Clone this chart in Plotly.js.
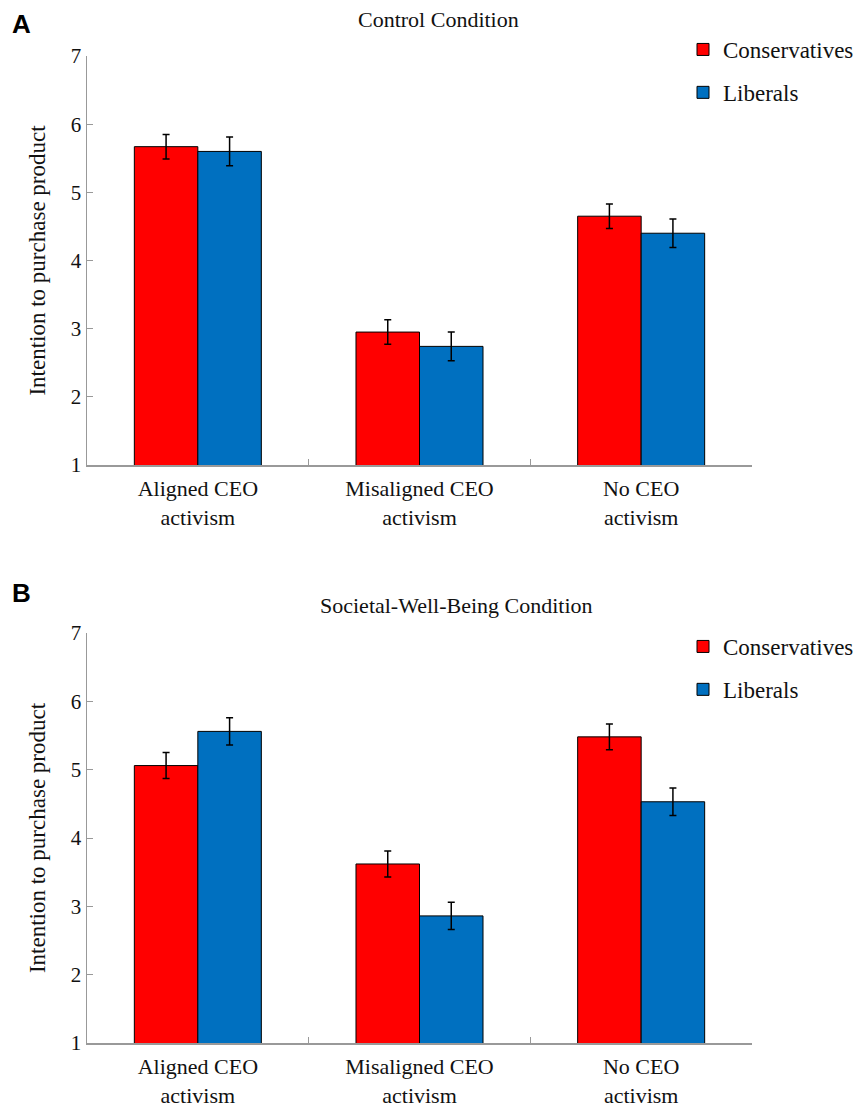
<!DOCTYPE html>
<html>
<head>
<meta charset="utf-8">
<script src="https://cdn.plot.ly/plotly-3.0.1.min.js"></script>
<style>html,body{margin:0;padding:0;background:#fff;}#chart{width:859px;height:1106px;}</style>
</head>
<body>
<div id="chart"></div>
<script>
const categories = ['Aligned CEO<br>activism', 'Misaligned CEO<br>activism', 'No CEO<br>activism'];
const seriesNames = ['Conservatives', 'Liberals'];
const yTicks = [1, 2, 3, 4, 5, 6, 7];

// Panel A: Control Condition
const consA = [5.67, 2.95, 4.65];
const consAErr = [0.18, 0.18, 0.18];
const libA = [5.60, 2.74, 4.40];
const libAErr = [0.21, 0.21, 0.21];

// Panel B: Societal-Well-Being Condition
const consB = [5.06, 3.62, 5.48];
const consBErr = [0.19, 0.19, 0.19];
const libB = [5.56, 2.86, 4.53];
const libBErr = [0.20, 0.20, 0.20];

const colors = ['#FF0000', '#0070C0'];
const FONT = 'Liberation Serif';

function bar(name, x, y, err, color, xa, ya, legendId, group) {
  return {
    type: 'bar', name: name, x: x, y: y,
    xaxis: xa, yaxis: ya, legend: legendId, legendgroup: group,
    marker: {color: color, line: {color: '#000', width: 1}},
    error_y: {type: 'data', array: err, visible: true, color: '#000', thickness: 1.5, width: 3.5}
  };
}

const data = [
  bar(seriesNames[0], categories, consA, consAErr, colors[0], 'x', 'y', 'legend', 'a1'),
  bar(seriesNames[1], categories, libA, libAErr, colors[1], 'x', 'y', 'legend', 'a2'),
  bar(seriesNames[0], categories, consB, consBErr, colors[0], 'x2', 'y2', 'legend2', 'b1'),
  bar(seriesNames[1], categories, libB, libBErr, colors[1], 'x2', 'y2', 'legend2', 'b2')
];

const H = 1106;
function py(px) { return 1 - px / H; }
function pxX(px) { return (px - 87) / 665; }

const xaxisBase = {
  type: 'category', showline: true, linecolor: '#999', linewidth: 1.5,
  ticks: 'inside', ticklen: 6, tickcolor: '#999', tickson: 'boundaries',
  showgrid: false, zeroline: false, fixedrange: true, ticklabelstandoff: 3,
  tickfont: {family: FONT, size: 22, color: '#111'}
};
const yaxisBase = {
  range: [1, 7], tickvals: yTicks, showline: true, linecolor: '#999', linewidth: 1.5,
  ticks: 'inside', ticklen: 6, tickcolor: '#999',
  showgrid: false, zeroline: false,
  tickfont: {family: FONT, size: 21, color: '#111'},
  title: {text: 'Intention to purchase product', font: {family: FONT, size: 23, color: '#111'}, standoff: 18}
};

const legendBase = {
  xanchor: 'left', yanchor: 'top', x: pxX(683),
  font: {family: FONT, size: 23, color: '#111'},
  traceorder: 'grouped', tracegroupgap: 10, bgcolor: 'rgba(0,0,0,0)'
};

const layout = {
  width: 859, height: 1106,
  margin: {l: 87, r: 107, t: 0, b: 0},
  paper_bgcolor: '#fff', plot_bgcolor: '#fff',
  barmode: 'group', bargap: 0.427, bargroupgap: 0,
  showlegend: true,
  font: {family: FONT, color: '#111'},
  xaxis: Object.assign({}, xaxisBase, {anchor: 'y', domain: [0, 1]}),
  yaxis: Object.assign({}, yaxisBase, {anchor: 'x', domain: [py(465), py(56)]}),
  xaxis2: Object.assign({}, xaxisBase, {anchor: 'y2', domain: [0, 1]}),
  yaxis2: Object.assign({}, yaxisBase, {anchor: 'x2', domain: [py(1043), py(633)]}),
  legend: Object.assign({}, legendBase, {y: py(28)}),
  legend2: Object.assign({}, legendBase, {y: py(625)}),
  annotations: [
    {text: 'Control Condition', xref: 'paper', yref: 'paper', x: pxX(438), y: py(20), showarrow: false,
     xanchor: 'center', yanchor: 'middle', font: {family: FONT, size: 22, color: '#111'}},
    {text: 'Societal-Well-Being Condition', xref: 'paper', yref: 'paper', x: pxX(456), y: py(605), showarrow: false,
     xanchor: 'center', yanchor: 'middle', font: {family: FONT, size: 22, color: '#111'}},
    {text: '<b>A</b>', xref: 'paper', yref: 'paper', x: pxX(10), y: py(24), showarrow: false,
     xanchor: 'left', yanchor: 'middle', font: {family: 'Liberation Sans', size: 26, color: '#000'}},
    {text: '<b>B</b>', xref: 'paper', yref: 'paper', x: pxX(10), y: py(593), showarrow: false,
     xanchor: 'left', yanchor: 'middle', font: {family: 'Liberation Sans', size: 26, color: '#000'}}
  ]
};

Plotly.newPlot('chart', data, layout, {displayModeBar: false, staticPlot: true});
</script>
</body>
</html>
